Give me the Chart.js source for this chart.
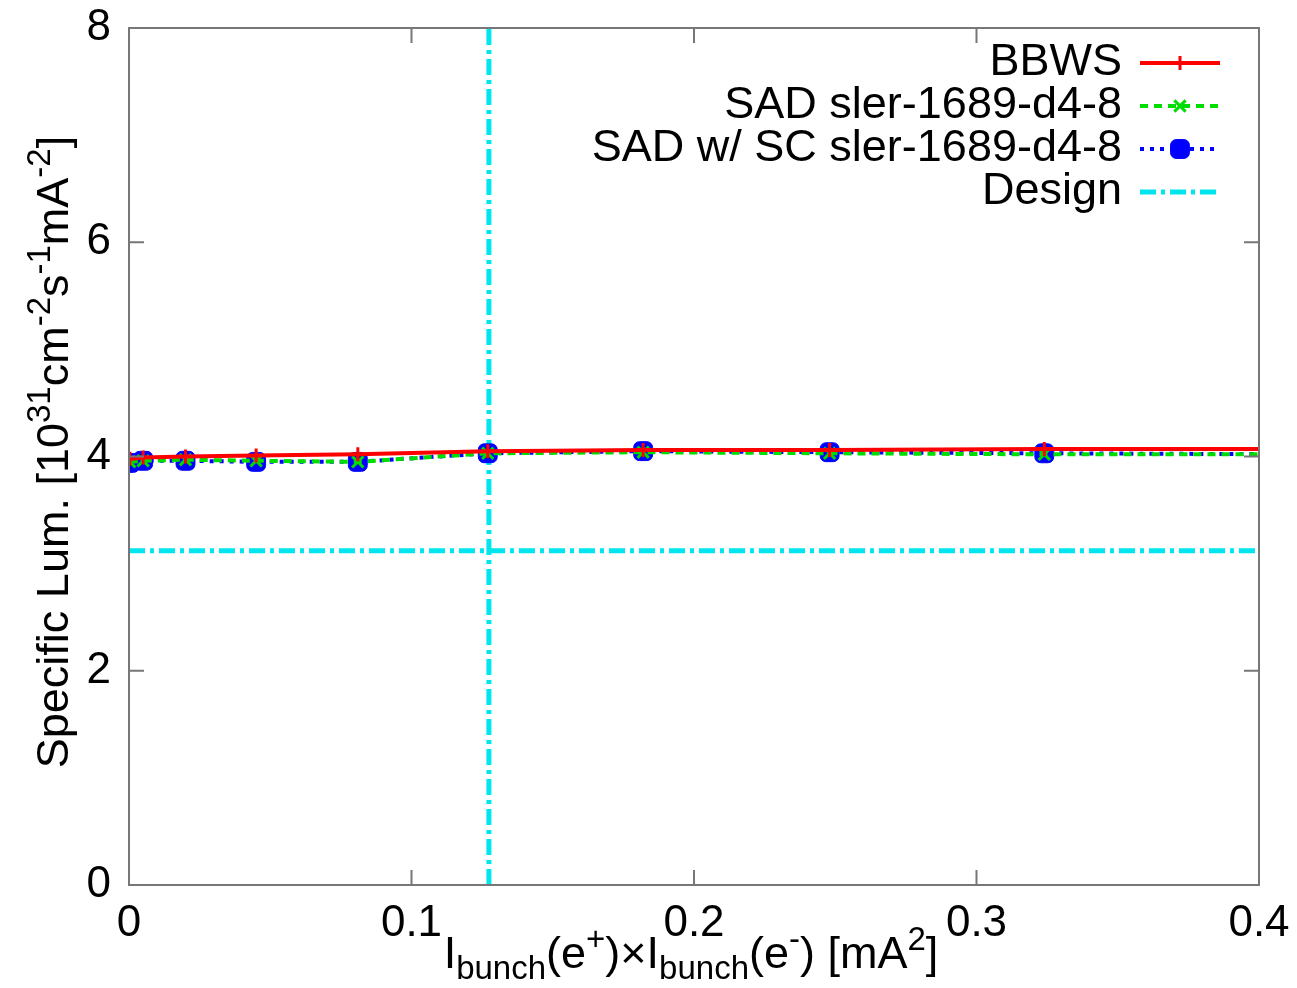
<!DOCTYPE html>
<html lang="en">
<head>
    <meta charset="UTF-8">
    <title>Specific luminosity</title>
    <script src="https://cdn.jsdelivr.net/npm/chart.js@4.4.0/dist/chart.umd.min.js"></script>
    <style>
        html, body { margin: 0; padding: 0; background: #fff; }
        #wrap { width: 1297px; height: 988px; }
    </style>
</head>
<body>
<div id="wrap"><canvas id="lumChart" width="1297" height="988"></canvas></div>
<script>
// bunch current product [mA^2] of each measurement point
const xPoints = [0.0003, 0.005, 0.020, 0.045, 0.081, 0.127, 0.182, 0.248, 0.324, 0.42];
// specific luminosity [1e31 cm^-2 s^-1 mA^-2]
const bbws = [3.98, 3.99, 4.00, 4.01, 4.02, 4.05, 4.06, 4.06, 4.07, 4.07];
const sad = [3.95, 3.96, 3.97, 3.96, 3.95, 4.03, 4.04, 4.03, 4.02, 4.02];
const sadSC = [3.94, 3.96, 3.96, 3.95, 3.95, 4.03, 4.05, 4.04, 4.03, 4.02];
// design values
const designX = [0, 0.4];
const designLum = [3.12, 3.12];
const designCurrentX = [0.1274, 0.1274];
const designCurrentY = [0, 8];

const xTicks = [0, 0.1, 0.2, 0.3, 0.4];
const yTicks = [0, 2, 4, 6, 8];

const FONT = '"Liberation Sans", Arial, sans-serif';

function pts(xs, ys) {
    return xs.map((x, i) => ({ x: x, y: ys[i] }));
}

// frame with inward ticks on all four sides (gnuplot style)
const framePlugin = {
    id: 'frame',
    afterDatasetsDraw(chart) {
        const { ctx, chartArea: a, scales } = chart;
        ctx.save();
        ctx.strokeStyle = '#777';
        ctx.lineWidth = 2;
        ctx.strokeRect(a.left, a.top, a.right - a.left, a.bottom - a.top);
        const len = 15;
        ctx.beginPath();
        xTicks.forEach(v => {
            const px = scales.x.getPixelForValue(v);
            ctx.moveTo(px, a.bottom); ctx.lineTo(px, a.bottom - len);
            ctx.moveTo(px, a.top); ctx.lineTo(px, a.top + len);
        });
        yTicks.forEach(v => {
            const py = scales.y.getPixelForValue(v);
            ctx.moveTo(a.left, py); ctx.lineTo(a.left + len, py);
            ctx.moveTo(a.right, py); ctx.lineTo(a.right - len, py);
        });
        ctx.stroke();
        ctx.restore();
    }
};

// right-aligned key with sample on the right, like gnuplot
const keyPlugin = {
    id: 'key',
    afterDraw(chart) {
        const { ctx } = chart;
        ctx.save();
        ctx.font = '45px ' + FONT;
        ctx.textAlign = 'right';
        ctx.textBaseline = 'middle';
        let y = 63;
        chart.data.datasets.forEach((ds, i) => {
            if (ds.noKey) return;
            ctx.fillStyle = '#000';
            ctx.fillText(ds.label, 1122, y);
            ctx.strokeStyle = ds.borderColor;
            ctx.lineWidth = ds.borderWidth;
            ctx.setLineDash(ds.borderDash || []);
            ctx.beginPath();
            ctx.moveTo(1140, y); ctx.lineTo(1220, y);
            ctx.stroke();
            ctx.setLineDash([]);
            if (ds.pointRadius > 0) {
                ctx.fillStyle = ds.pointBackgroundColor;
                ctx.strokeStyle = ds.pointBorderColor;
                ctx.lineWidth = ds.pointBorderWidth;
                Chart.helpers.drawPoint(ctx, {
                    pointStyle: ds.pointStyle, radius: ds.pointRadius, borderWidth: ds.pointBorderWidth
                }, 1180, y);
            }
            y += 43;
        });
        ctx.restore();
    }
};

// draw a run of [text, mode] pieces; mode: 0 normal, 1 sup, -1 sub
function drawRich(ctx, parts, cx, cy) {
    const big = '45px ' + FONT, small = '33px ' + FONT;
    let total = 0;
    parts.forEach(p => { ctx.font = p[1] ? small : big; total += ctx.measureText(p[0]).width; });
    let x = cx - total / 2;
    ctx.textAlign = 'left';
    ctx.textBaseline = 'alphabetic';
    parts.forEach(p => {
        ctx.font = p[1] ? small : big;
        const dy = p[1] === 1 ? -18 : (p[1] === -1 ? 11 : 0);
        ctx.fillText(p[0], x, cy + dy);
        x += ctx.measureText(p[0]).width;
    });
}

const titlePlugin = {
    id: 'titles',
    afterDraw(chart) {
        const { ctx } = chart;
        ctx.save();
        ctx.fillStyle = '#000';
        drawRich(ctx, [['I', 0], ['bunch', -1], ['(e', 0], ['+', 1], [')\u00d7I', 0], ['bunch', -1],
            ['(e', 0], ['-', 1], [') [mA', 0], ['2', 1], [']', 0]], 691, 968);
        ctx.translate(68, 452);
        ctx.rotate(-Math.PI / 2);
        drawRich(ctx, [['Specific Lum. [10', 0], ['31', 1], ['cm', 0], ['-2', 1], ['s', 0], ['-1', 1],
            ['mA', 0], ['-2', 1], [']', 0]], 0, 0);
        ctx.restore();
    }
};

function noEdgePadding(s) {
    s.paddingTop = 0; s.paddingBottom = 0; s.paddingLeft = 0; s.paddingRight = 0;
}

const ctx = document.getElementById('lumChart').getContext('2d');
new Chart(ctx, {
    type: 'scatter',
    data: {
        datasets: [
            {
                label: 'BBWS', data: pts(xPoints, bbws), showLine: true,
                borderColor: '#ff0000', borderWidth: 4, pointStyle: 'cross', pointRadius: 7,
                pointBorderColor: '#ff0000', pointBackgroundColor: '#ff0000', pointBorderWidth: 3
            },
            {
                label: 'SAD sler-1689-d4-8', data: pts(xPoints, sad), showLine: true,
                borderColor: '#00dd00', borderWidth: 4, borderDash: [8, 6], pointStyle: 'crossRot', pointRadius: 8,
                pointBorderColor: '#00dd00', pointBackgroundColor: '#00dd00', pointBorderWidth: 3
            },
            {
                label: 'SAD w/ SC sler-1689-d4-8', data: pts(xPoints, sadSC), showLine: true,
                borderColor: '#0000ff', borderWidth: 4, borderDash: [4, 6], pointStyle: 'rectRounded', pointRadius: 11,
                pointBorderColor: '#0000ff', pointBackgroundColor: '#0000ff', pointBorderWidth: 1
            },
            {
                label: 'Design', data: pts(designX, designLum), showLine: true,
                borderColor: '#00e5ee', borderWidth: 5, borderDash: [16, 5, 4, 5], pointRadius: 0
            },
            {
                label: 'Design current', noKey: true, data: pts(designCurrentX, designCurrentY), showLine: true,
                borderColor: '#00e5ee', borderWidth: 5, borderDash: [16, 5, 4, 5], pointRadius: 0
            }
        ]
    },
    options: {
        responsive: false,
        animation: false,
        layout: { padding: { top: 28, right: 38, left: 0, bottom: 0 } },
        plugins: { legend: { display: false }, tooltip: { enabled: false } },
        elements: { line: { tension: 0 } },
        scales: {
            x: {
                type: 'linear', min: 0, max: 0.4,
                grid: { display: false, drawTicks: false },
                border: { display: false },
                afterBuildTicks: s => { s.ticks = xTicks.map(v => ({ value: v })); },
                afterFit: s => { s.height = 103; noEdgePadding(s); },
                ticks: { color: '#000', padding: 12, font: { size: 44, family: FONT }, maxRotation: 0,
                    callback: v => String(v) }
            },
            y: {
                type: 'linear', min: 0, max: 8,
                grid: { display: false, drawTicks: false },
                border: { display: false },
                afterBuildTicks: s => { s.ticks = yTicks.map(v => ({ value: v })); },
                afterFit: s => { s.width = 129; noEdgePadding(s); },
                ticks: { color: '#000', padding: 18, font: { size: 44, family: FONT },
                    callback: v => String(v) }
            }
        }
    },
    plugins: [framePlugin, keyPlugin, titlePlugin]
});
</script>
</body>
</html>
